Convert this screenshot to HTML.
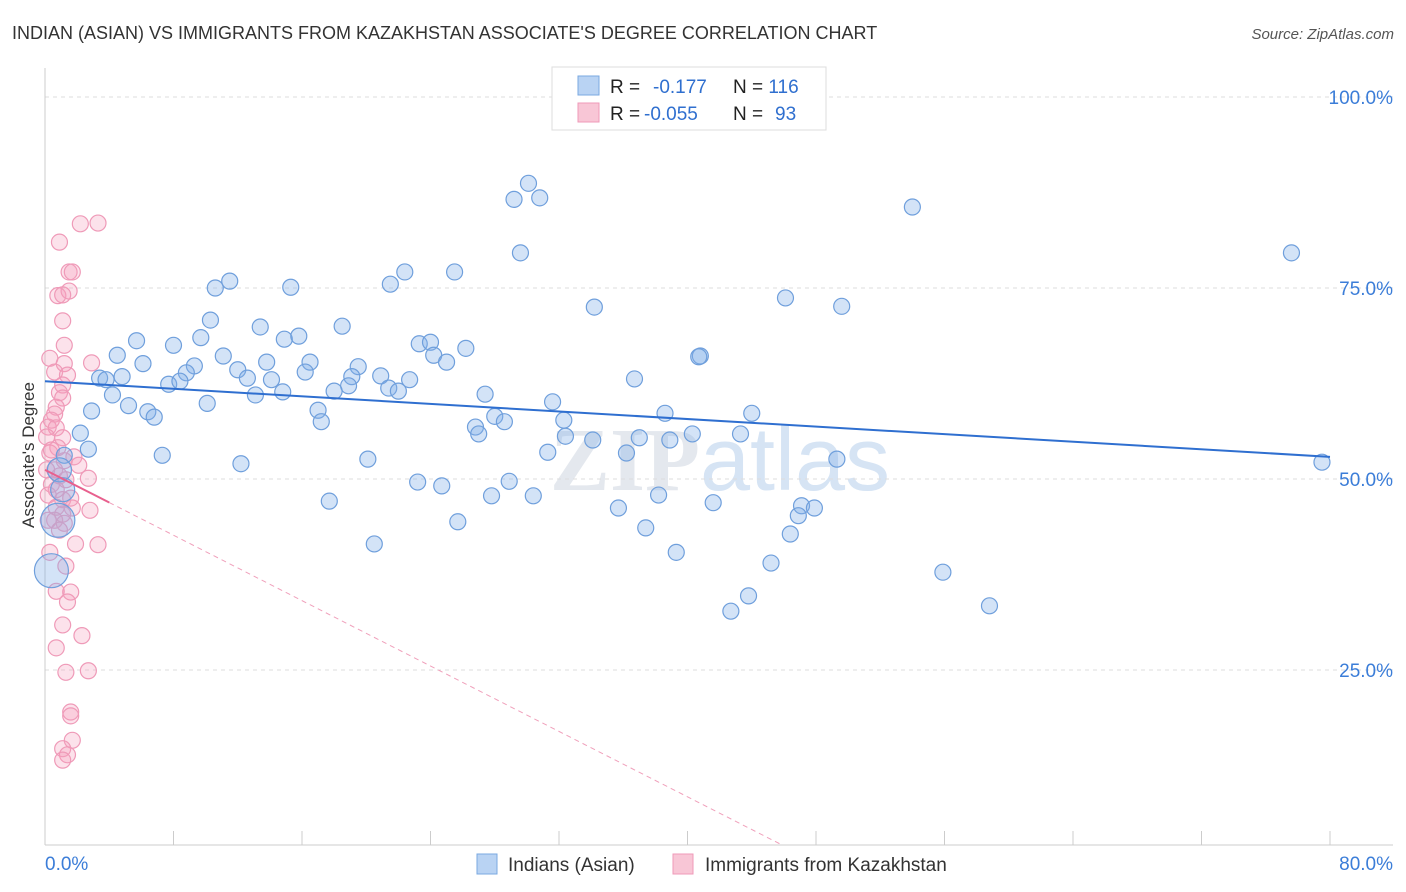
<!DOCTYPE html>
<html><head><meta charset="utf-8"><style>
body{margin:0;background:#fff;font-family:"Liberation Sans",sans-serif;}
svg{display:block}
</style></head><body>
<svg id="chart" width="1406" height="892" xmlns="http://www.w3.org/2000/svg">
<text x="12" y="39" font-size="18" fill="#333">INDIAN (ASIAN) VS IMMIGRANTS FROM KAZAKHSTAN ASSOCIATE'S DEGREE CORRELATION CHART</text>
<text x="1394" y="39" font-size="15" fill="#555" text-anchor="end" font-style="italic">Source: ZipAtlas.com</text>
<text x="720" y="490" font-size="90" fill="#e4e8ee" text-anchor="middle" font-family="Liberation Serif,serif" font-weight="bold">ZIP<tspan fill="#d6e4f4" font-family="Liberation Sans,sans-serif" font-weight="normal">atlas</tspan></text>
<g id="grid"></g><g id="axes"></g><g id="pinkpts"></g><g id="bluepts"></g><g id="lines"></g>
<text transform="translate(34,455) rotate(-90)" font-size="17" fill="#333" text-anchor="middle">Associate's Degree</text>
<g>
<rect x="552" y="67" width="274" height="63" fill="#fff" stroke="#ddd"/>
<rect x="578" y="76" width="21" height="19" fill="#b9d3f3" stroke="#7aa8e0"/>
<rect x="578" y="103" width="21" height="19" fill="#f8c6d6" stroke="#ef9ab8"/>
<text x="610" y="93" font-size="19" fill="#222">R = <tspan fill="#2f6fcf" x="653">-0.177</tspan><tspan fill="#222" x="733">N = </tspan><tspan fill="#2f6fcf">116</tspan></text>
<text x="610" y="120" font-size="19" fill="#222">R = <tspan fill="#2f6fcf" x="644">-0.055</tspan><tspan fill="#222" x="733">N = </tspan><tspan fill="#2f6fcf" x="775">93</tspan></text>
</g>
<g>
<rect x="477" y="854" width="20" height="20" fill="#b9d3f3" stroke="#7aa8e0"/>
<text x="508" y="871" font-size="19" fill="#333">Indians (Asian)</text>
<rect x="673" y="854" width="20" height="20" fill="#f8c6d6" stroke="#ef9ab8"/>
<text x="705" y="871" font-size="19" fill="#333">Immigrants from Kazakhstan</text>
</g>
</svg>
<script>
const blueX=[30.1,29.2,30.8,54.0,77.6,29.6,11.5,10.6,22.4,25.5,15.3,21.5,46.1,49.6,34.2,10.3,13.4,18.5,14.9,15.8,5.7,8.0,9.7,23.3,24.0,26.2,24.2,25.0,11.1,4.5,40.8,40.7,13.8,16.5,19.5,9.3,6.1,8.8,12.0,4.8,3.4,3.8,19.1,20.9,22.7,36.7,7.7,8.4,12.6,14.1,16.2,18.9,21.4,22.0,18.0,13.1,14.8,4.2,27.4,31.6,5.2,10.1,2.9,6.4,6.8,17.0,17.2,28.0,32.3,28.6,38.6,44.0,26.8,27.0,32.4,34.1,37.0,40.3,43.3,38.9,2.2,2.7,1.2,7.3,12.2,20.1,31.3,36.2,49.3,79.5,23.2,24.7,28.9,27.8,30.4,38.2,41.6,35.7,47.1,47.9,17.7,46.9,25.7,37.4,46.4,20.5,39.3,45.2,55.9,43.8,42.7,58.8,0.8,0.4,0.9,1.1];
const blueY=[88.7,86.6,86.8,85.6,79.6,79.6,75.9,75.0,77.1,77.1,75.1,75.5,73.7,72.6,72.5,70.8,69.9,70.0,68.3,68.7,68.1,67.5,68.5,67.7,67.9,67.1,66.2,65.3,66.1,66.2,66.1,66.0,65.3,65.3,64.7,64.8,65.1,63.9,64.3,63.4,63.2,63.0,63.4,63.5,63.0,63.1,62.4,62.8,63.2,63.0,64.0,62.2,61.9,61.5,61.5,61.0,61.4,61.0,61.1,60.1,59.6,59.9,58.9,58.8,58.1,59.0,57.5,58.2,57.7,57.5,58.6,58.6,56.8,55.9,55.6,55.1,55.4,55.9,55.9,55.1,56.0,53.9,53.1,53.1,52.0,52.6,53.5,53.4,52.6,52.2,49.6,49.1,49.7,47.8,47.8,47.9,46.9,46.2,46.5,46.2,47.1,45.2,44.4,43.6,42.8,41.5,40.4,39.0,37.8,34.7,32.7,33.4,44.6,38.0,51.2,48.6];
const blueSize=blueX.map((_,i)=>i===112||i===113?17:(i>=114?12:8));
const pinkX=[2.2,3.3,0.9,1.5,1.7,0.8,1.5,1.1,1.1,1.2,0.3,2.9,1.2,0.6,1.4,1.1,0.9,1.1,0.7,0.6,0.4,0.2,0.7,0.1,1.1,0.8,0.3,1.2,1.8,2.1,0.6,0.9,2.7,0.4,0.7,0.2,1.1,0.7,1.7,2.8,1.1,0.6,1.2,1.9,3.3,0.3,1.3,0.7,1.6,1.4,1.1,2.3,0.7,1.3,2.7,1.6,1.6,1.7,1.1,1.4,1.1,0.1,0.4,0.2,0.9,1.3,1.6];
const pinkY=[83.4,83.5,81.0,77.1,77.1,74.0,74.6,74.1,70.7,67.5,65.8,65.2,65.1,64.0,63.6,62.3,61.3,60.6,59.4,58.5,57.7,56.8,56.7,55.5,55.4,54.1,53.4,52.4,52.9,51.8,51.2,50.4,50.1,49.3,48.6,47.9,47.3,46.3,46.2,45.9,45.4,44.6,44.2,41.5,41.4,40.4,38.6,35.3,35.2,33.9,30.9,29.5,27.9,24.7,24.9,19.5,19.0,15.8,14.7,13.9,13.2,51.2,53.8,44.6,43.3,49.9,47.5];
const xTicks=[0,8,16,24,32,40,48,56,64,72,80];
const yTicks=[25,50,75,100];
const yTickLabels=["25.0%","50.0%","75.0%","100.0%"];
const blueTrend=[62.8,52.9];
const pinkTrend=[51.2,-1.07];
const NS="http://www.w3.org/2000/svg";
const sx=v=>45+v*16.0625, sy=v=>861-v*7.64;
function mk(tag,attrs,parent){const e=document.createElementNS(NS,tag);for(const k in attrs)e.setAttribute(k,attrs[k]);parent.appendChild(e);return e;}
const grid=document.getElementById('grid'),axes=document.getElementById('axes');
yTicks.forEach((t,i)=>{
 const l=mk('line',{x1:45,x2:1393,y1:sy(t),y2:sy(t),stroke:'#ddd','stroke-dasharray':'4,4'},grid);
 
 
 const tx=mk('text',{x:1393,y:sy(t)+7,'font-size':19,fill:'#3b7dd8','text-anchor':'end'},axes);tx.textContent=yTickLabels[i];
 
 
});
const yl=mk('line',{x1:45,x2:45,y1:68,y2:845,stroke:'#ccc'},axes);


const xl=mk('line',{x1:45,x2:1393,y1:845,y2:845,stroke:'#ccc'},axes);


xTicks.forEach(t=>{const l=mk('line',{x1:sx(t),x2:sx(t),y1:831,y2:845,stroke:'#ccc'},axes);
 
 });
const x0=mk('text',{x:45,y:870,'font-size':19,fill:'#3b7dd8'},axes);x0.textContent=xTicks[0].toFixed(1)+'%';


const x1=mk('text',{x:1393,y:870,'font-size':19,fill:'#3b7dd8','text-anchor':'end'},axes);x1.textContent=xTicks[xTicks.length-1].toFixed(1)+'%';


const pg=document.getElementById('pinkpts');
pinkX.forEach((v,i)=>{const c=mk('circle',{cx:sx(v),cy:sy(pinkY[i]),r:8,fill:'rgba(244,160,190,0.3)',stroke:'#ef9ab8','stroke-width':1.2},pg);
 
 });
const bg=document.getElementById('bluepts');
blueX.forEach((v,i)=>{const c=mk('circle',{cx:sx(v),cy:sy(blueY[i]),r:blueSize[i],fill:'rgba(130,175,232,0.35)',stroke:'#6f9fdc','stroke-width':1.2},bg);
 
 });
const lg=document.getElementById('lines');
const bl=mk('line',{x1:sx(0),y1:sy(blueTrend[0]),x2:sx(80),y2:sy(blueTrend[1]),stroke:'#2f6fd0','stroke-width':2},lg);


const pend=-pinkTrend[0]/pinkTrend[1]*0.96;
const pd=mk('line',{x1:sx(4),y1:sy(pinkTrend[0]+pinkTrend[1]*4),x2:sx(pend),y2:sy(pinkTrend[0]+pinkTrend[1]*pend),stroke:'#f0a0bb','stroke-width':1,'stroke-dasharray':'5,4'},lg);


const ps=mk('line',{x1:sx(0),y1:sy(pinkTrend[0]),x2:sx(4),y2:sy(pinkTrend[0]+pinkTrend[1]*4),stroke:'#e8608e','stroke-width':2},lg);


</script>
</body></html>
